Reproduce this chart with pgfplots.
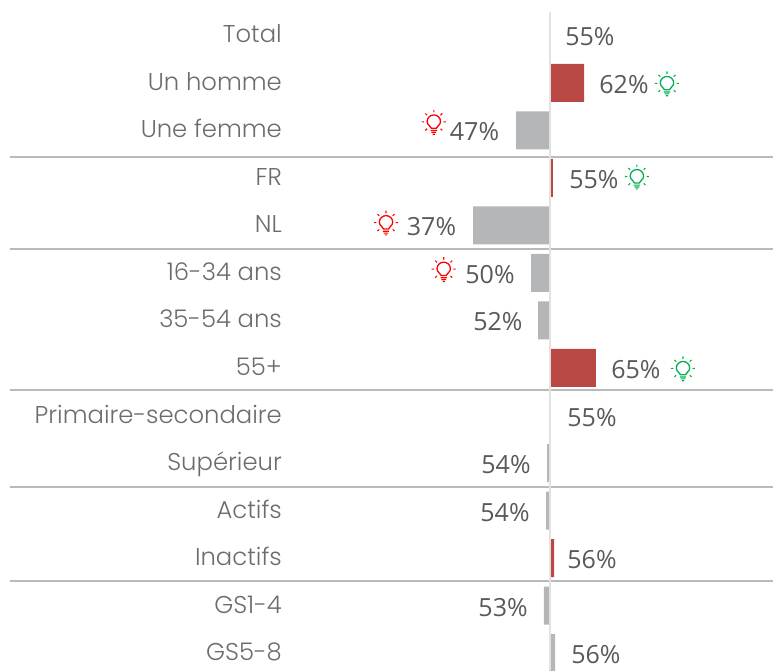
\documentclass[border=0pt]{standalone}
\usepackage{fontspec}
\setmainfont{Poppins}[UprightFont=* Light]
\newfontfamily\valfont{Open Sans}
\usepackage{pgfplots}
\usepackage{pgfplotstable}
\pgfplotsset{compat=1.18}
\definecolor{barred}{RGB}{185,71,68}
\definecolor{bargray}{RGB}{181,182,184}
\definecolor{sepgray}{RGB}{186,186,186}
\definecolor{midgray}{RGB}{226,226,226}
\definecolor{labgray}{RGB}{108,108,108}
\definecolor{valgray}{RGB}{89,89,89}
\definecolor{bulbgreen}{RGB}{0,176,80}
\definecolor{bulbred}{RGB}{255,0,0}

% light bulb icon, origin in the middle of the glass
\pgfdeclareplotmark{bulb}{%
  \pgfsetlinewidth{1.3pt}%
  \pgfpathmoveto{\pgfpoint{-2.4pt}{-4pt}}%
  \pgfpathcurveto{\pgfpoint{-2.8pt}{-1.6pt}}{\pgfpoint{-6.7pt}{-1pt}}{\pgfpoint{-6.7pt}{2.8pt}}%
  \pgfpathcurveto{\pgfpoint{-6.7pt}{6.6pt}}{\pgfpoint{-3.6pt}{9.4pt}}{\pgfpoint{0pt}{9.4pt}}%
  \pgfpathcurveto{\pgfpoint{3.6pt}{9.4pt}}{\pgfpoint{6.7pt}{6.6pt}}{\pgfpoint{6.7pt}{2.8pt}}%
  \pgfpathcurveto{\pgfpoint{6.7pt}{-1pt}}{\pgfpoint{2.8pt}{-1.6pt}}{\pgfpoint{2.4pt}{-4pt}}%
  \pgfpathclose
  \pgfusepathqstroke
  \pgfsetlinewidth{1.1pt}%
  \pgfpathmoveto{\pgfpoint{-3.2pt}{-6.2pt}}\pgfpathlineto{\pgfpoint{3.2pt}{-6.2pt}}%
  \pgfpathmoveto{\pgfpoint{-2.4pt}{-8.1pt}}\pgfpathlineto{\pgfpoint{2.4pt}{-8.1pt}}%
  \pgfpathmoveto{\pgfpoint{-1.2pt}{-9.9pt}}\pgfpathlineto{\pgfpoint{1.2pt}{-9.9pt}}%
  \foreach \a in {-45,0,45,90,135,180,225}{%
    \pgfpathmoveto{\pgfpointadd{\pgfpoint{0pt}{2.4pt}}{\pgfpointpolar{\a}{9.6pt}}}%
    \pgfpathlineto{\pgfpointadd{\pgfpoint{0pt}{2.4pt}}{\pgfpointpolar{\a}{12pt}}}%
  }%
  \pgfusepathqstroke
}

% row: 0 = Total ... 13 = GS5-8; bar = gap to the total in points
\pgfplotstableread{
row bar
1   7.50
3   0.76
7   10.10
8   0.22
11  0.98
}\redbars
\pgfplotstableread{
row bar
2   -7.28
4   -16.63
5   -4.02
6   -2.50
9   -0.54
10  -0.76
12  -1.20
13  1.20
}\graybars
\pgfplotstableread{
row lx     pct
0   8.80   55
1   16.20  62
2   -16.30 47
3   9.67   55
4   -25.65 37
5   -12.93 50
6   -11.20 52
7   18.80  65
8   9.24   55
9   -9.46  54
10  -9.67  54
11  9.24   56
12  -10.10 53
13  10.10  56
}\values

\begin{document}
\begin{tikzpicture}
\begin{axis}[
  width=773pt,height=670pt,scale only axis,
  xmin=-119.46,xmax=48.59,
  ymin=-0.747,ymax=13.358,
  y dir=reverse,
  axis line style={draw=none},
  tick style={draw=none},
  xtick=\empty,
  ytick={0,1,...,13},
  yticklabels={Total,Un homme,Une femme,FR,NL,16-34 ans,35-54 ans,55+,Primaire-secondaire,Supérieur,Actifs,Inactifs,GS1-4,GS5-8},
  yticklabel style={anchor=base east,xshift=282pt,yshift=-7.5pt,inner sep=0pt,
    font=\fontsize{24.3}{26}\selectfont,text=labgray},
  point meta=explicit,
  /pgf/number format/assume math mode=true,
]
\addplot[xbar,bar width=38pt,draw=none,fill=barred] table[x=bar,y=row] {\redbars};
\addplot[xbar,bar width=38pt,draw=none,fill=bargray] table[x=bar,y=row] {\graybars};

\addplot[sepgray,line width=2pt] coordinates {(-117.28,2.568)(48.59,2.568)};
\addplot[sepgray,line width=2pt] coordinates {(-117.28,4.488)(48.59,4.488)};
\addplot[sepgray,line width=2pt] coordinates {(-117.28,7.469)(48.59,7.469)};
\addplot[sepgray,line width=2pt] coordinates {(-117.28,9.499)(48.59,9.499)};
\addplot[sepgray,line width=2pt] coordinates {(-117.28,11.478)(48.59,11.478)};
\addplot[midgray,line width=2pt] coordinates {(0.06,-0.495)(0.06,13.358)};

\addplot[only marks,mark=none,
  nodes near coords={\pgfmathprintnumber{\pgfplotspointmeta}\%},
  nodes near coords style={anchor=base,yshift=-10.5pt,inner sep=0pt,
    font=\valfont\fontsize{25}{27}\selectfont,text=valgray}]
  table[x=lx,y=row,meta=pct] {\values};

% bulbs: green for the high groups, red for the low ones
\addplot[only marks,mark=bulb,mark size=1pt,color=bulbgreen]
  coordinates {(25.54,1.06)(19,3.02)(29.02,7.06)};
\addplot[only marks,mark=bulb,mark size=1pt,color=bulbred]
  coordinates {(-25.15,1.87)(-35.54,3.99)(-23,4.97)};
\end{axis}
\end{tikzpicture}
\end{document}
